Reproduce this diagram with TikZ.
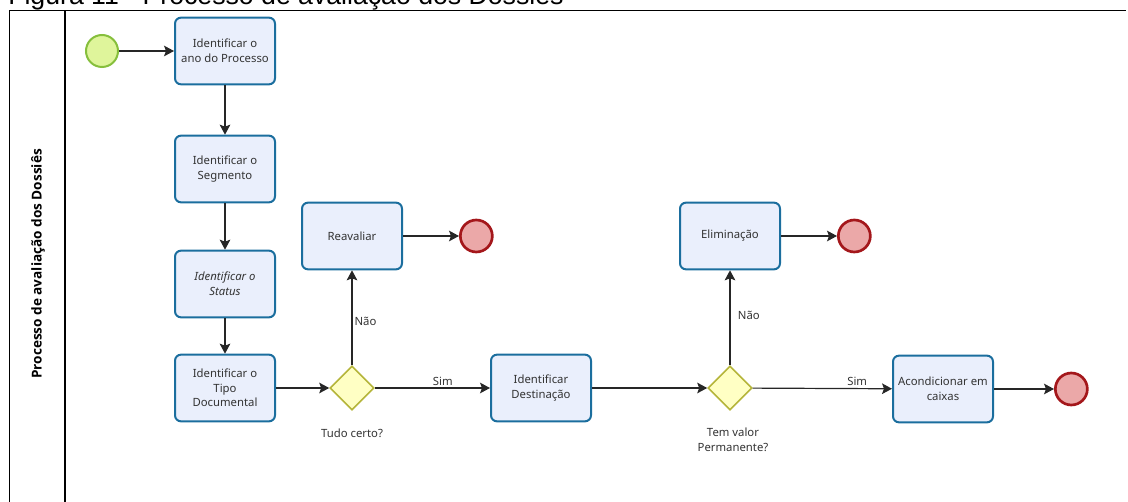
\documentclass[tikz,border=0pt]{standalone}
\usepackage{fontspec}
\setmainfont{Noto Sans}
\newfontfamily\capfont{Liberation Sans}
\newfontfamily\lanefont{Open Sans}
\usepackage{xcolor}
\usetikzlibrary{arrows.meta,positioning,shapes.geometric}

\definecolor{taskfill}{HTML}{EAEFFC}
\definecolor{taskline}{HTML}{1B6E9E}
\definecolor{gatefill}{HTML}{FFFFC4}
\definecolor{gateline}{HTML}{B5B53A}
\definecolor{startfill}{HTML}{DFF59B}
\definecolor{startline}{HTML}{86BF3C}
\definecolor{endfill}{HTML}{EBA8A8}
\definecolor{endline}{HTML}{A4171B}

\begin{document}
\begin{tikzpicture}[
  x=0.75pt, y=-0.75pt,
  node distance=42pt,
  task/.style={draw=taskline,line width=1.5pt,rounded corners=4.5pt,fill=taskfill,align=center,minimum width=75pt,minimum height=50pt,inner sep=2pt,text=black!80,font=\fontsize{8.5}{11}\selectfont},
  gate/.style={diamond,draw=gateline,line width=1.2pt,fill=gatefill,minimum width=33pt,minimum height=33pt,inner sep=0pt},
  startev/.style={circle,draw=startline,line width=1.5pt,fill=startfill,minimum size=24pt,inner sep=0pt},
  endev/.style={circle,draw=endline,line width=2pt,fill=endfill,minimum size=24pt,inner sep=0pt},
  flow/.style={-{Stealth[length=7.5pt,width=8pt,inset=1.5pt]},line width=0.9pt,draw=black!85},
  lbl/.style={font=\fontsize{8.5}{11}\selectfont,text=black!80,inner sep=1.5pt,align=center}
]
\useasboundingbox (0,0) rectangle (1128,502);
% caption, cut off at the top
\node[anchor=base west,inner sep=0pt,font=\capfont\fontsize{20}{24}\selectfont] (caption) at (8,4.5) {Figura 11 - Processo de avaliação dos Dossiês};
% pool and lane header
\draw[line width=1pt] (9.5,502) -- (9.5,10.5) -- (1126,10.5);
\draw[line width=1pt] (65,10.5) -- (65,502);
\node[rotate=90,font=\lanefont\bfseries\fontsize{10.2}{12}\selectfont] (pool) at (38,264) {Processo de avaliação dos Dossiês};

\node[startev] (inicio) at (102,51) {};
\node[task] (ano) at (225,51) {Identificar o\\ano do Processo};
\node[task] (segmento) at (225,169) {Identificar o\\Segmento};
\node[task,font=\itshape\fontsize{8.5}{11}\selectfont] (status) at (225,284) {Identificar o\\Status};
\node[task] (tipo) at (225,388) {Identificar o\\Tipo\\Documental};
\node[gate] (certo) at (352,388) {};
\node[lbl] (certolbl) at (352,433) {Tudo certo?};
\node[task] (reavaliar) at (352,236) {Reavaliar};
\node[endev,right=of reavaliar] (fim1) {};
\node[task] (destinacao) at (541,388) {Identificar\\Destinação};
\node[gate] (permanente) at (730,388) {};
\node[lbl] (permlbl) at (733,440) {Tem valor\\Permanente?};
\node[task] (eliminacao) at (730,236) {Eliminação};
\node[endev,right=of eliminacao] (fim2) {};
\node[task] (caixas) at (943,389) {Acondicionar em\\caixas};
\node[endev,right=45pt of caixas] (fim3) {};

\draw[flow] (inicio) -- (ano);
\draw[flow] (ano) -- (segmento);
\draw[flow] (segmento) -- (status);
\draw[flow] (status) -- (tipo);
\draw[flow] (tipo) -- (certo);
\draw[flow] (certo) -- node[lbl,pos=0.46,right] {Não} (reavaliar);
\draw[flow] (certo) -- node[lbl,pos=0.59,above] {Sim} (destinacao);
\draw[flow] (reavaliar) -- (fim1);
\draw[flow] (destinacao) -- (permanente);
\draw[flow] (permanente) -- node[lbl,pos=0.52,right=4pt] {Não} (eliminacao);
\draw[flow] (eliminacao) -- (fim2);
\draw[flow] (permanente) -- node[lbl,pos=0.75,above] {Sim} (caixas);
\draw[flow] (caixas) -- (fim3);
\end{tikzpicture}
\end{document}
